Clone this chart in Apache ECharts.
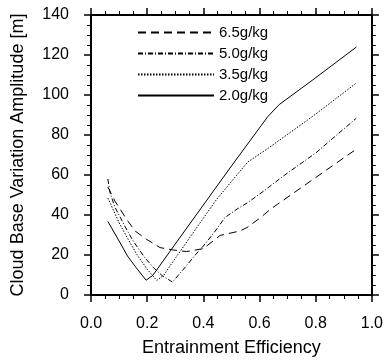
<!DOCTYPE html>
<html>
<head>
<meta charset="utf-8">
<script src="https://cdn.jsdelivr.net/npm/echarts@6/dist/echarts.min.js"></script>
<style>
  html, body { margin: 0; padding: 0; background: #fff; }
  #main { width: 386px; height: 362px; }
</style>
</head>
<body>
<div id="main"></div>
<script>
// values: [entrainment efficiency, amplitude]
var names = ["6.5g/kg", "5.0g/kg", "3.5g/kg", "2.0g/kg"];
var dash65 = [[0.06,54],[0.085,47],[0.127,37.8],[0.157,32],[0.198,27.8],[0.246,23.7],[0.293,22.5],[0.34,21.7],[0.4,23.2],[0.46,29.8],[0.53,32],[0.555,33.7],[0.6,38.3],[0.64,43],[0.94,72.5]];
var dash50 = [[0.06,58],[0.068,51],[0.085,44],[0.12,34.5],[0.15,27],[0.19,19],[0.222,13.7],[0.255,9.5],[0.29,6.5],[0.33,13],[0.37,19.8],[0.4,24.5],[0.44,31.5],[0.477,38.7],[0.52,43],[0.558,46.2],[0.62,52.5],[0.68,59],[0.8,71],[0.944,88.3]];
var dot35 = [[0.06,48.5],[0.08,42.3],[0.103,35.3],[0.13,28.4],[0.163,20.3],[0.2,12.9],[0.234,7.3],[0.26,10],[0.281,14.5],[0.364,31.2],[0.447,47.8],[0.536,62.8],[0.558,66.5],[0.625,72.8],[0.791,89.5],[0.943,105.8]];
var solid20 = [[0.06,36.8],[0.1,27],[0.13,19.5],[0.16,13.8],[0.196,7.4],[0.22,9.8],[0.3,25.5],[0.4,45],[0.5,64.5],[0.63,89.3],[0.67,95.2],[0.79,107.6],[0.945,124]];
var dashTypes = [[8,5],[5,2,1,2],[1.5,1.5],'solid'];

var font = 'Liberation Sans, Arial, Helvetica, sans-serif';
var chart = echarts.init(document.getElementById('main'));

function axisCommon(show) {
  return {
    axisLine: { show: true, onZero: false, lineStyle: { color: '#000', width: 2 } },
    axisTick: { show: true, inside: false, length: 7, lineStyle: { color: '#000', width: 1.5 } },
    minorTick: { show: true, splitNumber: 4, length: 4, lineStyle: { color: '#000', width: 1 } },
    splitLine: { show: false },
    minorSplitLine: { show: false },
    axisLabel: { show: show }
  };
}

var xBottom = Object.assign(axisCommon(true), {
  type: 'value', min: 0, max: 1, interval: 0.2, position: 'bottom',
  name: 'Entrainment Efficiency', nameLocation: 'middle', nameGap: 44,
  nameTextStyle: { fontFamily: font, fontSize: 18, color: '#000' }
});
xBottom.axisLabel = { show: true, margin: 21, fontFamily: font, fontSize: 16, color: '#000',
  formatter: function (v) { return v.toFixed(1); } };
var xTop = Object.assign(axisCommon(false), { type: 'value', min: 0, max: 1, interval: 0.2, position: 'top' });

var yLeft = Object.assign(axisCommon(true), {
  type: 'value', min: 0, max: 140, interval: 20, position: 'left',
  name: 'Cloud Base Variation Amplitude [m]', nameLocation: 'middle', nameGap: 64,
  nameTextStyle: { fontFamily: font, fontSize: 18, color: '#000' }
});
yLeft.axisLabel = { show: true, margin: 22, fontFamily: font, fontSize: 16, color: '#000' };
var yRight = Object.assign(axisCommon(false), { type: 'value', min: 0, max: 140, interval: 20, position: 'right' });

var allData = [dash65, dash50, dot35, solid20];
var series = [];
for (var i = 0; i < names.length; i++) {
  series.push({
    name: names[i], type: 'line', xAxisIndex: 0, yAxisIndex: 0,
    data: allData[i], symbol: 'none', smooth: false,
    lineStyle: { color: '#000', width: 1, type: dashTypes[i] },
    itemStyle: { color: '#000' }
  });
}

chart.setOption({
  animation: false,
  backgroundColor: '#fff',
  grid: { left: 91, right: 14, top: 15, bottom: 66 },
  legend: {
    data: names, orient: 'vertical', left: 137, top: 25, padding: 0,
    itemWidth: 76, itemHeight: 14, itemGap: 6,
    itemStyle: { opacity: 0 },
    textStyle: { fontFamily: font, fontSize: 15, color: '#000' }
  },
  xAxis: [xBottom, xTop],
  yAxis: [yLeft, yRight],
  series: series
});
</script>
</body>
</html>
